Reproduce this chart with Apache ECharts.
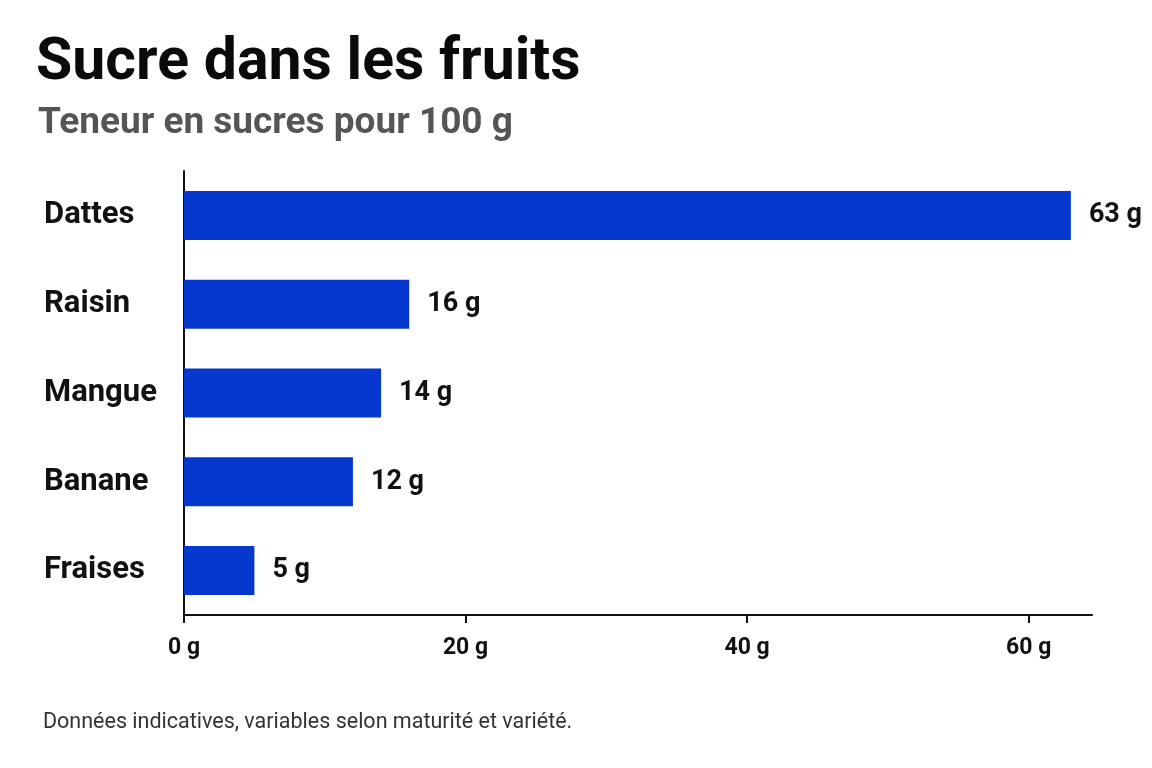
<!DOCTYPE html>
<html>
<head>
<meta charset="utf-8">
<script src="https://cdn.jsdelivr.net/npm/echarts@6/dist/echarts.min.js"></script>
<style>
html,body{margin:0;padding:0;background:#fff;}
#chart{width:1152px;height:768px;}
</style>
</head>
<body>
<div id="chart"></div>
<script>
const categories = ['Dattes', 'Raisin', 'Mangue', 'Banane', 'Fraises'];
const sugarValues = [63, 16, 14, 12, 5];
const tickValues = [0, 20, 40, 60];
const unit = ' g';

const chart = echarts.init(document.getElementById('chart'));
chart.setOption({
  backgroundColor: '#ffffff',
  animation: false,
  title: [
    {
      text: 'Sucre dans les fruits',
      left: 31, top: 30,
      textStyle: { fontFamily: 'Roboto', fontWeight: 'bold', fontSize: 59, color: '#0a0a0a' }
    },
    {
      text: 'Teneur en sucres pour 100 g',
      left: 33, top: 100,
      textStyle: { fontFamily: 'Roboto', fontWeight: 'bold', fontSize: 37, color: '#555555' }
    },
    {
      text: 'Données indicatives, variables selon maturité et variété.',
      left: 38, top: 707,
      textStyle: { fontFamily: 'Roboto', fontWeight: 'normal', fontSize: 21.5, color: '#333333' }
    }
  ],
  grid: { left: 184, right: 60, top: 171, bottom: 153, containLabel: false },
  xAxis: {
    type: 'value',
    min: 0, max: 64.5, interval: 20,
    splitLine: { show: false },
    axisLine: { show: true, lineStyle: { color: '#111', width: 2 } },
    axisTick: { show: true, length: 8, customValues: tickValues, lineStyle: { color: '#111', width: 2 } },
    axisLabel: {
      customValues: tickValues,
      formatter: v => v + unit,
      margin: 22,
      fontFamily: 'Roboto', fontWeight: 'bold', fontSize: 23, color: '#111'
    }
  },
  yAxis: {
    type: 'category',
    data: categories,
    inverse: true,
    axisLine: { show: true, lineStyle: { color: '#111', width: 2 } },
    axisTick: { show: false },
    axisLabel: {
      align: 'left',
      margin: 140,
      padding: [4, 0, 0, 0],
      fontFamily: 'Roboto', fontWeight: 'bold', fontSize: 31, color: '#111'
    }
  },
  series: [{
    type: 'bar',
    data: sugarValues,
    barWidth: 49,
    itemStyle: { color: '#0638d0' },
    label: {
      show: true,
      position: 'right',
      distance: 18,
      formatter: p => p.value + unit,
      fontFamily: 'Roboto', fontWeight: 'bold', fontSize: 27, color: '#111'
    }
  }]
});
</script>
</body>
</html>
